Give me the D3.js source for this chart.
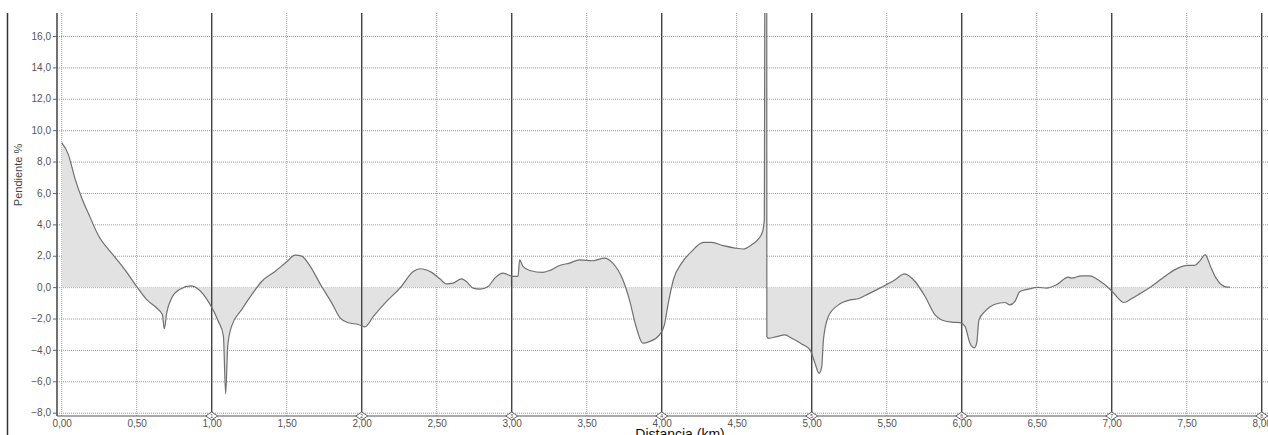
<!doctype html>
<html lang="es">
<head>
<meta charset="utf-8">
<title>Pendiente</title>
<style>
  body { margin: 0; background: #fff; }
  svg { display: block; font-family: "Liberation Sans", Arial, sans-serif; }
  .grid line { stroke: #9a9a9a; stroke-width: 1; stroke-dasharray: 1,1; }
  .axis text { fill: #555; font-size: 10px; }
  .axis path { display: none; }
  .axis line { stroke: #666; }
</style>
</head>
<body>
<svg id="chart" width="1268" height="435"></svg>
<script src="https://cdn.jsdelivr.net/npm/d3@7"></script>
<script>
var dist = [0.00, 0.044, 0.089, 0.133, 0.189, 0.244, 0.344, 0.422, 0.50, 0.567, 0.633, 0.671, 0.684, 0.70, 0.733, 0.789, 0.862, 0.911, 0.989,
  1.044, 1.078, 1.093, 1.107, 1.133, 1.20, 1.267, 1.333, 1.422, 1.50, 1.556, 1.60, 1.644, 1.733, 1.80, 1.856, 1.911, 1.978,
  2.022, 2.078, 2.166, 2.255, 2.344, 2.388, 2.466, 2.521, 2.565, 2.61, 2.665, 2.698, 2.743, 2.787, 2.843, 2.887, 2.942,
  3.009, 3.042, 3.053, 3.075, 3.12, 3.208, 3.264, 3.319, 3.386, 3.452, 3.541, 3.619, 3.674, 3.741, 3.785, 3.829, 3.874, 3.918, 3.985,
  4.018, 4.044, 4.078, 4.133, 4.20, 4.278, 4.333, 4.411, 4.489, 4.544, 4.60, 4.644, 4.673, 4.684, 4.690, 4.700, 4.701, 4.711, 4.767, 4.822, 4.867, 4.933, 4.989,
  5.022, 5.049, 5.067, 5.078, 5.111, 5.178, 5.256, 5.311, 5.378, 5.467, 5.556, 5.618, 5.689, 5.756, 5.822, 5.867, 5.933, 5.989,
  6.022, 6.055, 6.084, 6.10, 6.115, 6.155, 6.222, 6.288, 6.322, 6.355, 6.388, 6.443, 6.51, 6.565, 6.632, 6.71, 6.732, 6.798, 6.854, 6.909,
  7.004, 7.042, 7.08, 7.131, 7.186, 7.264, 7.353, 7.419, 7.508, 7.552, 7.585, 7.623, 7.659, 7.696, 7.769, 7.79];
var slope = [9.2, 8.46, 6.9, 5.7, 4.46, 3.3, 2.04, 1.1, 0.04, -0.8, -1.33, -1.75, -2.65, -1.64, -0.7, -0.13, 0.08, -0.13, -1.1,
  -2.17, -3.1, -6.8, -3.75, -2.48, -1.43, -0.48, 0.36, 1.0, 1.62, 2.04, 1.98, 1.52, 0.04, -1.0, -1.96, -2.27, -2.38,
  -2.53, -1.87, -0.91, -0.06, 1.0, 1.17, 0.94, 0.53, 0.21, 0.26, 0.53, 0.36, -0.06, -0.13, 0.04, 0.57, 0.89,
  0.68, 0.68, 1.74, 1.32, 1.06, 0.94, 1.1, 1.38, 1.53, 1.74, 1.68, 1.85, 1.53, 0.47, -0.81, -2.51, -3.57, -3.47, -3.04,
  -2.4, -1.02, 0.47, 1.53, 2.28, 2.85, 2.85, 2.64, 2.49, 2.43, 2.7, 3.06, 3.55, 4.3, 30, 30, -3.15, -3.26, -3.15, -3.04, -3.26, -3.62, -4.0,
  -4.85, -5.49, -5.06, -3.36, -1.87, -1.13, -0.81, -0.74, -0.43, 0.0, 0.47, 0.85, 0.36, -0.6, -1.77, -2.09, -2.23, -2.26,
  -2.5, -3.57, -3.87, -3.57, -2.09, -1.55, -1.09, -0.98, -1.13, -0.91, -0.28, -0.13, -0.02, -0.06, 0.15, 0.64, 0.57, 0.72, 0.72, 0.47,
  -0.28, -0.7, -0.98, -0.74, -0.43, 0.04, 0.68, 1.1, 1.38, 1.38, 1.64, 2.06, 1.32, 0.57, 0.0, 0.0];

var xTicks = [0, 0.5, 1, 1.5, 2, 2.5, 3, 3.5, 4, 4.5, 5, 5.5, 6, 6.5, 7, 7.5, 8];
var yTicks = [-8, -6, -4, -2, 0, 2, 4, 6, 8, 10, 12, 14, 16];
var kmMarks = [1, 2, 3, 4, 5, 6, 7, 8];

var plotTop = 13, plotBottom = 416, plotLeft = 57, plotRight = 1268;

var svg = d3.select("#chart");

var x = d3.scaleLinear().domain([0, 8]).range([61.7, 1261.7]);
var y = d3.scaleLinear().domain([-8, 16]).range([412.7, 36]);

var comma = function(f) { return function(d) { return f(d).replace(".", ","); }; };

// borde izquierdo
svg.append("line")
  .attr("x1", 7.5).attr("x2", 7.5).attr("y1", plotTop).attr("y2", 435)
  .attr("stroke", "#333").attr("stroke-width", 1.5);

svg.append("clipPath").attr("id", "clip")
  .append("rect").attr("x", plotLeft).attr("y", plotTop)
  .attr("width", plotRight - plotLeft).attr("height", plotBottom - plotTop);

// rejilla
var grid = svg.append("g").attr("class", "grid");
grid.selectAll(".h").data(yTicks).enter().append("line")
  .attr("x1", plotLeft).attr("x2", plotRight)
  .attr("y1", function(d) { return y(d) + 0.5; }).attr("y2", function(d) { return y(d) + 0.5; });
grid.selectAll(".v").data(xTicks).enter().append("line")
  .attr("y1", plotTop).attr("y2", plotBottom)
  .attr("x1", function(d) { return x(d); }).attr("x2", function(d) { return x(d); });

var pts = dist.map(function(d, i) { return [d, slope[i]]; });

var plot = svg.append("g").attr("clip-path", "url(#clip)");

plot.append("path")
  .datum(pts)
  .attr("fill", "#e2e2e2")
  .attr("d", d3.area().curve(d3.curveMonotoneX)
    .x(function(d) { return x(d[0]); }).y0(y(0)).y1(function(d) { return y(d[1]); }));

// lineas de kilometro
plot.selectAll(".km").data(kmMarks).enter().append("line")
  .attr("x1", function(d) { return x(d); }).attr("x2", function(d) { return x(d); })
  .attr("y1", plotTop).attr("y2", plotBottom)
  .attr("stroke", "#444").attr("stroke-width", 1.4);

plot.append("path")
  .datum(pts)
  .attr("fill", "none")
  .attr("stroke", "#707070")
  .attr("stroke-width", 1.2)
  .attr("d", d3.line().curve(d3.curveMonotoneX)
    .x(function(d) { return x(d[0]); }).y(function(d) { return y(d[1]); }));

// ejes
svg.append("line").attr("x1", plotLeft).attr("x2", plotLeft).attr("y1", plotTop).attr("y2", plotBottom)
  .attr("stroke", "#444").attr("stroke-width", 1.5);
svg.append("line").attr("x1", plotLeft).attr("x2", plotRight).attr("y1", plotBottom).attr("y2", plotBottom)
  .attr("stroke", "#555").attr("stroke-width", 1.2);

svg.append("g").attr("class", "axis")
  .attr("transform", "translate(" + plotLeft + ",0)")
  .call(d3.axisLeft(y).tickValues(yTicks).tickSize(4).tickPadding(2).tickFormat(comma(d3.format(".1f"))));

svg.append("g").attr("class", "axis")
  .attr("transform", "translate(0," + plotBottom + ")")
  .call(d3.axisBottom(x).tickValues(xTicks).tickSize(0).tickPadding(4).tickFormat(comma(d3.format(".2f"))));

// rombos de kilometro
var dia = svg.selectAll(".dia").data(kmMarks).enter().append("g")
  .attr("transform", function(d) { return "translate(" + x(d) + "," + plotBottom + ")"; });
dia.append("path")
  .attr("d", "M-6,0L0,-4L6,0L0,4Z")
  .attr("fill", "#fff").attr("stroke", "#555").attr("stroke-width", 0.9);
dia.append("text")
  .attr("text-anchor", "middle").attr("y", 2)
  .attr("font-size", "5px").attr("fill", "#444")
  .text(function(d) { return d; });

// titulos
svg.append("text")
  .attr("transform", "translate(22,175) rotate(-90)")
  .attr("text-anchor", "middle")
  .attr("font-family", "'Liberation Sans Narrow', 'Arial Narrow', sans-serif")
  .attr("font-size", "11px").attr("fill", "#444")
  .text("Pendiente %");

svg.append("text")
  .attr("x", 680).attr("y", 439)
  .attr("text-anchor", "middle")
  .attr("font-size", "14px").attr("fill", "#111")
  .text("Distancia (km)");
</script>
</body>
</html>
